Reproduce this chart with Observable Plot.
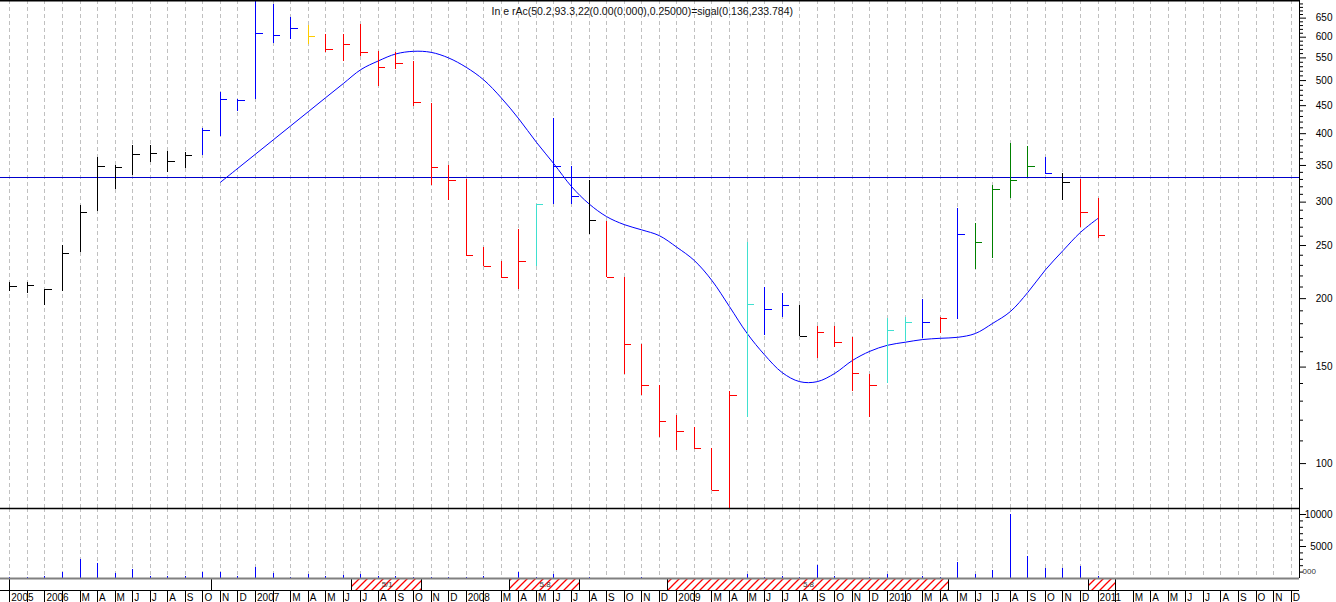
<!DOCTYPE html>
<html><head><meta charset="utf-8">
<script src="https://cdn.jsdelivr.net/npm/d3@7"></script>
<script src="https://cdn.jsdelivr.net/npm/@observablehq/plot@0.6"></script>
<style>
html,body{margin:0;padding:0;background:#fff;}
#chart{width:1336px;}
#chart svg{display:block;max-width:none;}
</style></head><body><div id="chart"></div>
<script>
// ---- data (monthly bars, Nov 2005 .. Jan 2011) ----
const monthLabels = ["2005","","2006","","M","A","M","J","J","A","S","O","N","D",
  "2007","","M","A","M","J","J","A","S","O","N","D",
  "2008","","M","A","M","J","J","A","S","O","N","D",
  "2009","","M","A","M","J","J","A","S","O","N","D",
  "2010","","M","A","M","J","J","A","S","O","N","D",
  "2011","","M","A","M","J","J","A","S","O","N","D"];
const high = [214.2,214.2,207.7,249.9,295.7,361.3,349.8,380.4,380.4,371.4,
  369.9,409.1,475.9,462.2,730,688.0,652.2,629.9,605.7,605.7,
  632.6,564.7,563.0,541.5,454.5,349.8,330.2,248.2,233.7,267.3,
  296.9,425.6,348.3,328.4,276.8,218.2,164.9,138.8,122.3,116.3,
  106.5,135.3,252.8,209.5,204.3,194.2,177.8,177.8,170.0,145.5,
  183.9,184.7,199.2,184.4,292.0,273.8,321.2,383.2,378.8,362.2,
  337.8,329.4,304.1];
const low = [206.3,204.5,194.2,206.3,243.0,288.3,316.2,335.4,354.7,339.6,
  345.8,364.8,395.1,439.5,461.6,584.7,593.9,582.3,563.0,540.8,
  553.7,487.5,522.9,448.8,321.6,302.3,239.3,229.1,218.8,207.7,
  228.8,296.9,296.9,261.4,218.8,145.5,133.2,111.7,105.7,106.2,
  89.2,82,121.5,171.5,184.9,170.3,155.7,162.6,135.3,121.5,
  140.1,167.0,169.1,172.9,183.1,226.4,236.9,304.9,332.6,337.2,
  301.9,269.9,257.7];
const close = [210.1,211.0,207.5,241.4,286.7,348.3,346.9,365.9,367.9,355.3,
  364.3,404.7,461.0,459.7,608.3,604.0,621.2,601.4,568.7,580.8,
  561.6,527.3,536.9,455.3,346.4,328.0,239.3,229.1,218.8,233.4,
  296.9,347.9,306.7,277.3,218.8,164.7,138.6,119.3,114.4,106.6,
  89.2,132.9,194.8,191.0,194.0,170.3,173.2,166.1,145.8,138.8,
  174.7,180.6,180.6,183.9,262.3,252.8,315.8,328.0,348.3,337.8,
  326.1,286.7,261.0];
const signal = [
  "n","n","n","n","n","n","n","n","n","n","n",
  "up","up","up","up","up","up",
  "warn",
  "dn","dn","dn","dn","dn","dn","dn","dn","dn","dn","dn","dn",
  "rec","up","up","n",
  "dn","dn","dn","dn","dn","dn","dn","dn",
  "rec","up","up","n",
  "dn","dn","dn","dn",
  "rec","rec","up","dn","up",
  "str","str","str","str",
  "up","n","dn","dn"];
const ma = [null,null,null,null,null,null,null,null,null,null,null,null,
  326.1,346.0,367.1,389.5,413.3,438.6,465.5,493.7,523.6,543.1,
  559.3,565.4,563.0,549.9,528.7,501.4,464.9,425.6,385.8,352.3,
  320.3,297.8,282.3,273.0,267.0,260.6,248.2,234.7,215.8,193.4,
  172.9,157.9,146.6,141.1,141.1,146.1,154.2,160.3,164.4,166.5,
  168.4,169.3,170.0,172.7,180.3,189.4,205.4,225.7,244.7,264.3,280.3];
const volume = [200,200,300,1000,3000,2300,800,1350,350,350,
  350,1000,1000,350,1750,800,200,650,350,500,
  650,350,300,200,200,200,200,350,0,1000,
  200,550,0,200,0,0,200,0,0,0,
  0,0,650,200,350,200,2000,350,0,150,
  650,0,350,200,2450,650,1300,10050,3400,1600,
  1600,1900,350];
const refLevel = 332.6;
const phaseStart = [0,11.5,19.5,23.5,28.5,32.5,37.5,53.5,61.5];
const phaseEnd = [11.5,19.5,23.5,28.5,32.5,37.5,53.5,61.5,63];
const phaseKind = ["plain","plain","hatch","plain","hatch","plain","hatch","plain","hatch"];
const phaseLabel = ["","","5/1","","5.8","","5.8","",""];
const priceMajor = [100,150,200,250,300,350,400,450,500,550,600,650];
const priceMinor = d3.range(90, 700, 10).filter(v => v % 50 !== 0);
const volMajor = [5000, 10000];
const volMinor = d3.range(1000, 10000, 1000).filter(v => v !== 5000);
const titleText = "In e rAc(50.2,93.3,22(0.00(0.000),0.25000)=sigal(0.136,233.784)";

// ---- layout ----
const W = 1336, RIGHT = 37;
const xDomain = [-0.53, 73.474];
const style = {fontFamily: "'Liberation Sans', Arial, sans-serif", fontSize: "10px", background: "white", color: "black", overflow: "visible"};
const gridIdx = d3.range(monthLabels.length);
const bars = high.map((h, i) => ({i, high: h, low: low[i], close: close[i], sig: signal[i], vol: volume[i]}));
const maData = ma.map((v, i) => ({i, v})).filter(d => d.v != null);
const phases = phaseStart.map((s, k) => ({start: s, end: phaseEnd[k], kind: phaseKind[k], label: phaseLabel[k]}));
const grid = {x: d => d, stroke: "#c0c0c0", strokeDasharray: "4,3", shapeRendering: "crispEdges"};

const pricePlot = Plot.plot({
  width: W, height: 508,
  marginTop: 0, marginBottom: 0, marginLeft: 0, marginRight: RIGHT,
  x: {type: "linear", domain: xDomain, axis: null},
  y: {type: "log", domain: [82.8, 700], axis: null},
  color: {type: "ordinal", domain: ["n","up","warn","dn","rec","str"],
          range: ["#000000","#0000ff","#ffcc00","#ff0000","#40e0d0","#008000"]},
  style,
  marks: [
    Plot.ruleX(gridIdx, grid),
    Plot.ruleY([refLevel], {stroke: "#0000cc", shapeRendering: "crispEdges"}),
    Plot.line(maData, {x: "i", y: "v", curve: "catmull-rom", stroke: "#0000ff", strokeWidth: 1}),
    Plot.ruleX(bars, {x: "i", y1: "low", y2: "high", stroke: "sig", clip: true, shapeRendering: "crispEdges"}),
    Plot.link(bars, {x1: "i", x2: d => d.i + 0.4, y1: "close", y2: "close", stroke: "sig", shapeRendering: "crispEdges"}),
    Plot.ruleY([700], {stroke: "black", strokeWidth: 2}),
    Plot.ruleX([xDomain[1]], {stroke: "black", shapeRendering: "crispEdges"}),
    Plot.axisY({ticks: priceMinor, anchor: "right", tickSize: 3, tickFormat: () => "", label: null}),
    Plot.axisY({ticks: priceMajor, anchor: "right", tickSize: 6, tickPadding: 27, textAnchor: "end", tickFormat: d => String(d), label: null}),
    Plot.text([titleText], {frameAnchor: "top-left", dx: 491, dy: 7, text: d => d, textAnchor: "start", fill: "#111", fontSize: 10.5})
  ]
});

const volPlot = Plot.plot({
  width: W, height: 70,
  marginTop: 0, marginBottom: 0, marginLeft: 0, marginRight: RIGHT,
  x: {type: "linear", domain: xDomain, axis: null},
  y: {type: "linear", domain: [0, 10940], axis: null},
  style,
  marks: [
    Plot.ruleX(gridIdx, grid),
    Plot.ruleX(bars.filter(d => d.vol > 0), {x: "i", y1: 0, y2: "vol", stroke: "#0000ff", shapeRendering: "crispEdges"}),
    Plot.ruleY([10940], {stroke: "black", strokeWidth: 1.5}),
    Plot.ruleX([xDomain[1]], {stroke: "black", shapeRendering: "crispEdges"}),
    Plot.axisY({ticks: volMinor, anchor: "right", tickSize: 3, tickFormat: () => "", label: null}),
    Plot.axisY({ticks: volMajor, anchor: "right", tickSize: 6, tickPadding: 27, textAnchor: "end", tickFormat: d => String(d), label: null}),
    Plot.text(["000"], {frameAnchor: "bottom-right", dx: 3, dy: -5, textAnchor: "start", fontSize: 8, fill: "#333"})
  ]
});

const tlPlot = Plot.plot({
  width: W, height: 24,
  marginTop: 0, marginBottom: 0, marginLeft: 0, marginRight: RIGHT,
  x: {type: "linear", domain: xDomain, axis: null},
  y: {type: "linear", domain: [0, 2], range: [0, 24], axis: null},
  color: {type: "ordinal", domain: ["plain","hatch"], range: ["white","url(#hatch)"]},
  style,
  marks: [
    Plot.rect(phases, {x1: "start", x2: "end", y1: 0, y2: 1, fill: "kind", stroke: "black", shapeRendering: "crispEdges"}),
    Plot.text(phases.filter(d => d.label), {x: d => (d.start + d.end) / 2, y: 0.5, text: "label", fontSize: 8, fill: "#333"}),
    Plot.ruleY([0], {stroke: "#808080", strokeWidth: 2}),
    Plot.ruleY([1], {stroke: "black", shapeRendering: "crispEdges"}),
    Plot.ruleX(gridIdx, {x: d => d, y1: 1, y2: 2, stroke: "black", shapeRendering: "crispEdges"}),
    Plot.text(gridIdx, {x: d => d, y: 1.5, dy: 1, dx: 1.5, text: d => monthLabels[d], textAnchor: "start", fontSize: 10})
  ]
});
d3.select(tlPlot).insert("defs", ":first-child").html(
  '<pattern id="hatch" patternUnits="userSpaceOnUse" width="8" height="8">' +
  '<rect width="8" height="8" fill="white"/>' +
  '<path d="M-2,2L2,-2M0,8L8,0M6,10L10,6" stroke="#ff0000" stroke-width="1.3"/></pattern>');

const root = document.getElementById("chart");
root.append(pricePlot, volPlot, tlPlot);
</script>
</body></html>
